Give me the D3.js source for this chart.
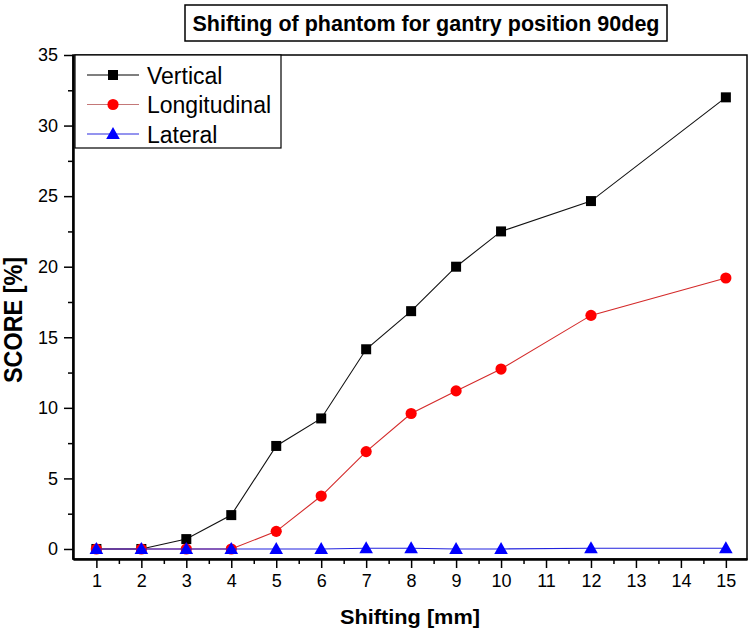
<!DOCTYPE html>
<html><head><meta charset="utf-8">
<script src="https://cdn.jsdelivr.net/npm/d3@7"></script>
<style>body{margin:0;background:#fff}svg{display:block}text{font-family:"Liberation Sans",Arial,sans-serif}</style>
</head><body><svg id="c" width="750" height="632"></svg>
<script>
const title = "Shifting of phantom for gantry position 90deg";
const xLabel = "Shifting [mm]";
const yLabel = "SCORE [%]";
const shifts = [1,2,3,4,5,6,7,8,9,10,12,15];
const vertical = [0,0,0.7,2.4,7.3,9.25,14.15,16.85,20.0,22.5,24.65,32.0];
const longitudinal = [0,0,0,0,1.25,3.75,6.9,9.6,11.2,12.75,16.55,19.2];
const lateral = [0,0,0,0,0,0,0.05,0.05,0,0,0.05,0.05];
const xTicks = [1,2,3,4,5,6,7,8,9,10,11,12,13,14,15];
const xMinor = [1.5,2.5,3.5,4.5,5.5,6.5,7.5,8.5,9.5,10.5,11.5,12.5,13.5,14.5];
const yTicks = [0,5,10,15,20,25,30,35];
const yMinor = [2.5,7.5,12.5,17.5,22.5,27.5,32.5];
const seriesNames = ["Vertical","Longitudinal","Lateral"];

const svg = d3.select("#c");
const L=73,R=747,T=55,B=559;
const x = d3.scaleLinear().domain([0.48,15.47]).range([L,R]);
const y = d3.scaleLinear().domain([-0.71,35]).range([B,T]);

// frame
svg.append("rect").attr("x",L).attr("y",T).attr("width",R-L).attr("height",B-T)
  .attr("fill","none").attr("stroke","#000").attr("stroke-width",1.5);

function styleAxis(g, labels){
  g.select(".domain").attr("stroke","#000").attr("stroke-width",2);
  g.selectAll(".tick line").attr("stroke","#000").attr("stroke-width",1.5);
  if(labels) g.selectAll(".tick text").attr("font-size",18).attr("fill","#000").style("font-family",'"Liberation Sans",Arial,sans-serif');
  else g.selectAll(".tick text").remove();
}
const gx = svg.append("g").attr("transform",`translate(0,${B})`)
  .call(d3.axisBottom(x).tickValues(xTicks).tickSize(9).tickPadding(6).tickSizeOuter(0).tickFormat(d3.format("d")));
styleAxis(gx,true);
const gxm = svg.append("g").attr("transform",`translate(0,${B})`)
  .call(d3.axisBottom(x).tickValues(xMinor).tickSize(5).tickSizeOuter(0));
styleAxis(gxm,false);
const gy = svg.append("g").attr("transform",`translate(${L},0)`)
  .call(d3.axisLeft(y).tickValues(yTicks).tickSize(9).tickPadding(6).tickSizeOuter(0).tickFormat(d3.format("d")));
styleAxis(gy,true);
const gym = svg.append("g").attr("transform",`translate(${L},0)`)
  .call(d3.axisLeft(y).tickValues(yMinor).tickSize(5).tickSizeOuter(0));
styleAxis(gym,false);

const line = d3.line().x(d=>x(d[0])).y(d=>y(d[1]));
const series = [
  {name:seriesNames[0], vals:vertical, color:"#000", lcolor:"#111", legColor:"#000", shape:"square"},
  {name:seriesNames[1], vals:longitudinal, color:"#ff0000", lcolor:"#d42a2a", legColor:"#c47878", shape:"circle"},
  {name:seriesNames[2], vals:lateral, color:"#0000ff", lcolor:"#2222dd", legColor:"#2a2ae0", shape:"triangle"}
];
function marker(g, shape, cx, cy, color){
  if(shape==="square") g.append("rect").attr("x",cx-5).attr("y",cy-5).attr("width",10).attr("height",10).attr("fill",color);
  else if(shape==="circle") g.append("circle").attr("cx",cx).attr("cy",cy).attr("r",5.6).attr("fill",color);
  else g.append("path").attr("d",`M${cx},${cy-7}L${cx+6.8},${cy+5}L${cx-6.8},${cy+5}Z`).attr("fill",color);
}
series.forEach(s=>{
  const pts = shifts.map((v,i)=>[v,s.vals[i]]);
  const g = svg.append("g");
  g.append("path").attr("d",line(pts)).attr("fill","none").attr("stroke",s.lcolor).attr("stroke-width",1.1);
  pts.forEach(p=>marker(g,s.shape,x(p[0]),y(p[1]),s.color));
});

// legend
const lg = svg.append("g");
lg.append("rect").attr("x",75).attr("y",55).attr("width",206).attr("height",93).attr("fill","#fff").attr("stroke","#000").attr("stroke-width",1.2);
series.forEach((s,i)=>{
  const yy = 75 + i*29.5;
  lg.append("line").attr("x1",87).attr("x2",139).attr("y1",yy).attr("y2",yy).attr("stroke",s.legColor).attr("stroke-width",1.2);
  marker(lg,s.shape,113,yy,s.color);
  lg.append("text").attr("x",147).attr("y",yy+8.5).attr("font-size",23).attr("fill","#000").text(s.name);
});

// title box
svg.append("rect").attr("x",185).attr("y",5).attr("width",482).attr("height",36).attr("fill","#fff").attr("stroke","#000").attr("stroke-width",1.5);
svg.append("text").attr("x",426).attr("y",31).attr("text-anchor","middle").attr("font-size",21.5).attr("font-weight","bold").text(title);

// axis titles
svg.append("text").attr("x",(L+R)/2).attr("y",624).attr("text-anchor","middle").attr("font-size",21).attr("font-weight","bold")
  .attr("textLength",140).attr("lengthAdjust","spacingAndGlyphs").text(xLabel);
svg.append("text").attr("transform","translate(22,320) rotate(-90)").attr("text-anchor","middle").attr("font-size",25).attr("font-weight","bold")
  .attr("textLength",126).attr("lengthAdjust","spacingAndGlyphs").text(yLabel);
</script></body></html>
